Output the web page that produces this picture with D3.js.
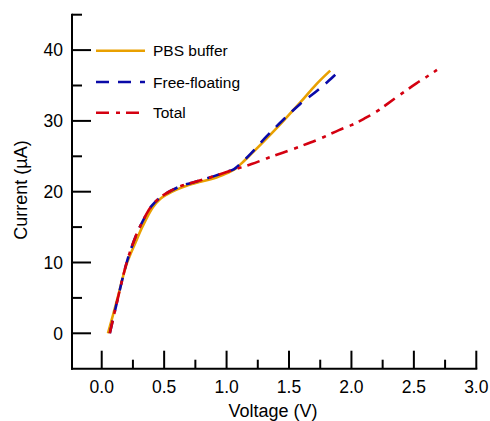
<!DOCTYPE html>
<html>
<head>
<meta charset="utf-8">
<script src="https://cdn.jsdelivr.net/npm/d3@7"></script>
<style>
  body { margin: 0; background: #fff; }
  svg { display: block; font-family: "Liberation Sans", Arial, Helvetica, sans-serif; }
</style>
</head>
<body>
<div id="chart"></div>
<script>
var width = 490, height = 421;

// data (voltage in V, current in uA)
var pbsV = [0.05, 0.12, 0.2, 0.27, 0.33, 0.41, 0.47, 0.52, 0.6, 0.68, 0.79, 0.9, 1.0, 1.06, 1.12, 1.19, 1.32, 1.45, 1.59, 1.72, 1.83];
var pbsI = [0, 4.5, 9.8, 12.8, 15.2, 17.8, 19.0, 19.6, 20.3, 20.85, 21.4, 21.9, 22.6, 23.1, 24.0, 25.2, 27.5, 29.9, 32.6, 35.2, 37.1];

var freeV = [0.065, 0.13, 0.2, 0.27, 0.33, 0.4, 0.47, 0.55, 0.65, 0.77, 0.9, 1.0, 1.06, 1.12, 1.19, 1.32, 1.45, 1.59, 1.72, 1.82, 1.91];
var freeI = [0, 5, 10, 13.6, 15.9, 18.0, 19.2, 20.1, 20.9, 21.5, 22.2, 22.8, 23.2, 24.1, 25.3, 27.8, 30.1, 32.4, 34.2, 35.7, 37.2];

var totalV = [0.065, 0.13, 0.2, 0.27, 0.33, 0.4, 0.47, 0.55, 0.65, 0.77, 0.9, 1.03, 1.2, 1.32, 1.45, 1.59, 1.75, 1.9, 2.0, 2.1, 2.2, 2.28, 2.39, 2.52, 2.6, 2.685];
var totalI = [0, 5, 10, 13.6, 15.9, 18.0, 19.2, 20.1, 20.9, 21.5, 22.2, 22.95, 23.9, 24.7, 25.5, 26.4, 27.5, 28.7, 29.4, 30.3, 31.3, 32.3, 33.7, 35.3, 36.2, 37.2];

var xTicks = [0, 0.5, 1, 1.5, 2, 2.5, 3];
var xMinor = [0.25, 0.75, 1.25, 1.75, 2.25, 2.75];
var yTicks = [0, 10, 20, 30, 40];
var yMinor = [5, 15, 25, 35, 45];

var seriesNames = ["PBS buffer", "Free-floating", "Total"];

function zip(v, c) { return v.map(function (d, i) { return { v: d, i: c[i] }; }); }

var series = [
  { name: seriesNames[0], data: zip(pbsV, pbsI), color: "#E9A000", dash: null },
  { name: seriesNames[1], data: zip(freeV, freeI), color: "#0A0AA8", dash: "13,9" },
  { name: seriesNames[2], data: zip(totalV, totalI), color: "#D40010", dash: "13,7,4,6" }
];

var svg = d3.select("#chart").append("svg")
    .attr("width", width)
    .attr("height", height);

var x = d3.scaleLinear().domain([-0.238, 3.0]).range([72, 476.3]);
var y = d3.scaleLinear().domain([-5, 45]).range([368.7, 14.7]);

var axisColor = "#000";

// x axis, ticks point inward
var gx = svg.append("g").attr("transform", "translate(0," + y(-5) + ")");
gx.append("line")
    .attr("x1", x.range()[0] - 1).attr("x2", x.range()[1] + 1)
    .attr("stroke", axisColor).attr("stroke-width", 2);
gx.selectAll(".maj").data(xTicks).enter().append("line")
    .attr("x1", x).attr("x2", x)
    .attr("y1", 0).attr("y2", -18)
    .attr("stroke", axisColor).attr("stroke-width", 2);
gx.selectAll(".min").data(xMinor).enter().append("line")
    .attr("x1", x).attr("x2", x)
    .attr("y1", 0).attr("y2", -9)
    .attr("stroke", axisColor).attr("stroke-width", 2);
gx.selectAll("text").data(xTicks).enter().append("text")
    .attr("x", x)
    .attr("y", 24)
    .attr("text-anchor", "middle")
    .attr("font-size", "17.5px")
    .text(d3.format(".1f"));

// y axis
var gy = svg.append("g").attr("transform", "translate(" + x.range()[0] + ",0)");
gy.append("line")
    .attr("y1", y.range()[1] - 1).attr("y2", y.range()[0] + 1)
    .attr("stroke", axisColor).attr("stroke-width", 2);
gy.selectAll(".maj").data(yTicks).enter().append("line")
    .attr("y1", y).attr("y2", y)
    .attr("x1", 0).attr("x2", 19)
    .attr("stroke", axisColor).attr("stroke-width", 2);
gy.selectAll(".min").data(yMinor).enter().append("line")
    .attr("y1", y).attr("y2", y)
    .attr("x1", 0).attr("x2", 10)
    .attr("stroke", axisColor).attr("stroke-width", 2);
gy.selectAll("text").data(yTicks).enter().append("text")
    .attr("x", -9)
    .attr("y", y)
    .attr("dy", "0.36em")
    .attr("text-anchor", "end")
    .attr("font-size", "17.5px")
    .text(function (d) { return d; });

// axis titles
svg.append("text")
    .attr("x", 273)
    .attr("y", 417)
    .attr("text-anchor", "middle")
    .attr("font-size", "18px")
    .text("Voltage (V)");

svg.append("text")
    .attr("transform", "translate(27,190) rotate(-90)")
    .attr("text-anchor", "middle")
    .attr("font-size", "18px")
    .text("Current (\u00b5A)");

// curves
var line = d3.line()
    .x(function (d) { return x(d.v); })
    .y(function (d) { return y(d.i); })
    .curve(d3.curveCatmullRom.alpha(0.5));

series.forEach(function (s) {
  svg.append("path")
      .datum(s.data)
      .attr("fill", "none")
      .attr("stroke", s.color)
      .attr("stroke-width", 2.6)
      .attr("stroke-dasharray", s.dash)
      .attr("d", line);
});

// legend
var legend = svg.append("g");
var legendY = [50.7, 82, 112.7];
series.forEach(function (s, k) {
  legend.append("line")
      .attr("x1", 96).attr("x2", 145)
      .attr("y1", legendY[k]).attr("y2", legendY[k])
      .attr("stroke", s.color)
      .attr("stroke-width", 2.6)
      .attr("stroke-dasharray", s.dash);
  legend.append("text")
      .attr("x", 153)
      .attr("y", legendY[k])
      .attr("dy", "0.36em")
      .attr("font-size", "15.5px")
      .text(s.name);
});
</script>
</body>
</html>
